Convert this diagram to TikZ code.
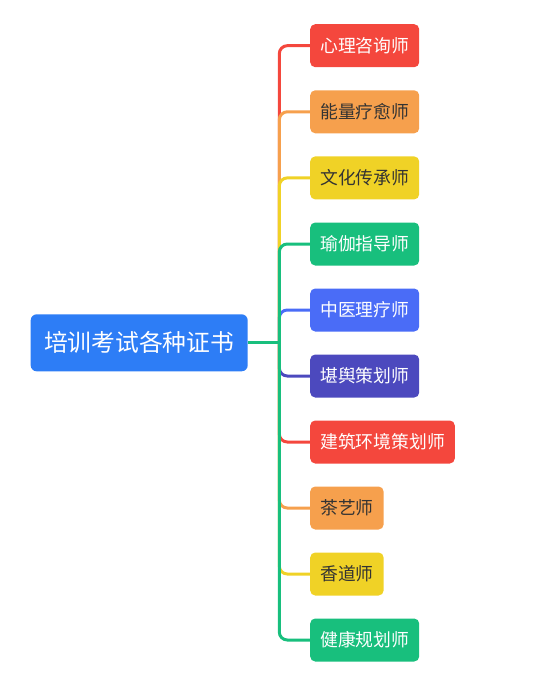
\documentclass[tikz,border=0pt]{standalone}
\usepackage{fontspec}
\newfontfamily\cjk{Noto Sans CJK SC}
\definecolor{cRoot}{HTML}{2D7DF6}
\definecolor{cRed}{HTML}{F4473D}
\definecolor{cOrange}{HTML}{F6A04D}
\definecolor{cYellow}{HTML}{F0D226}
\definecolor{cGreen}{HTML}{18BF7D}
\definecolor{cBlue}{HTML}{4A6CF7}
\definecolor{cPurple}{HTML}{4C49BE}
\definecolor{cDark}{HTML}{333333}
\begin{document}
\begin{tikzpicture}[x=1pt,y=-1pt,
  leaf/.style={anchor=west,rounded corners=5pt,minimum height=43pt,inner xsep=10pt,inner ysep=0pt,font=\cjk\fontsize{17.8}{20}\selectfont},
  branch/.style={line width=3pt,rounded corners=8pt}]
\useasboundingbox (0,0) rectangle (560,689);
\node[fill=cRoot,text=white,rounded corners=6pt,minimum width=217pt,minimum height=57pt,inner sep=0pt,font=\cjk\fontsize{23.8}{26}\selectfont] (root) at (139.2,342.8) {培训考试各种证书};
\coordinate (hub) at (279.3,342.8);
\node[leaf,fill=cRed,text=white] (xinli) at (310,45.7) {心理咨询师};
\node[leaf,fill=cOrange,text=cDark] (nengliang) at (310,111.8) {能量疗愈师};
\node[leaf,fill=cYellow,text=cDark] (wenhua) at (310,177.9) {文化传承师};
\node[leaf,fill=cGreen,text=white] (yujia) at (310,244) {瑜伽指导师};
\node[leaf,fill=cBlue,text=white] (zhongyi) at (310,310) {中医理疗师};
\node[leaf,fill=cPurple,text=white] (kanyu) at (310,376) {堪舆策划师};
\node[leaf,fill=cRed,text=white] (jianzhu) at (310,442) {建筑环境策划师};
\node[leaf,fill=cOrange,text=cDark] (chayi) at (310,508) {茶艺师};
\node[leaf,fill=cYellow,text=cDark] (xiangdao) at (310,574) {香道师};
\node[leaf,fill=cGreen,text=white] (jiankang) at (310,640) {健康规划师};
% branches, green ones last so they sit on top of the trunk
\draw[branch,cRed] (hub) |- (xinli.west);
\draw[branch,cOrange] (hub) |- (nengliang.west);
\draw[branch,cYellow] (hub) |- (wenhua.west);
\draw[branch,cBlue] (hub) |- (zhongyi.west);
\draw[branch,cPurple] (hub) |- (kanyu.west);
\draw[branch,cRed] (hub) |- (jianzhu.west);
\draw[branch,cOrange] (hub) |- (chayi.west);
\draw[branch,cYellow] (hub) |- (xiangdao.west);
\draw[branch,cGreen] (hub) |- (yujia.west);
\draw[branch,cGreen] (hub) |- (jiankang.west);
\draw[line width=3pt,cGreen] (root.east) -- (hub);
\end{tikzpicture}
\end{document}
